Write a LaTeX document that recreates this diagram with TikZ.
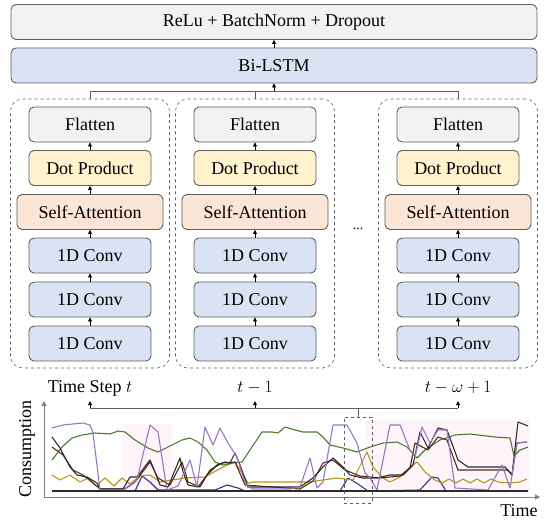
\documentclass[tikz,border=0pt]{standalone}
\usepackage{fontspec}
\setmainfont{Liberation Serif}
\usetikzlibrary{arrows.meta}

\definecolor{edgegray}{HTML}{5E5E5E}
\definecolor{boxgray}{HTML}{F2F2F2}
\definecolor{boxblue}{HTML}{DAE3F3}
\definecolor{boxyellow}{HTML}{FFF2CC}
\definecolor{boxpeach}{HTML}{FBE5D6}
\definecolor{cpurple}{HTML}{9677C0}
\definecolor{cgreen}{HTML}{4B7A2A}
\definecolor{cblack}{HTML}{2E2A2A}
\definecolor{cbrown}{HTML}{5A2818}
\definecolor{colive}{HTML}{B8950F}
\definecolor{cnavy}{HTML}{34348A}
\definecolor{cpink}{HTML}{FEF5FB}

\begin{document}
\begin{tikzpicture}[x=1pt,y=-1pt,
	blk/.style={draw=edgegray, line width=0.9pt, rounded corners=5pt, minimum height=35pt,
		inner sep=0pt, font=\fontsize{18}{21}\selectfont},
	frame/.style={draw=edgegray, dashed, line width=0.6pt, rounded corners=12pt,
		minimum width=159pt, minimum height=269pt},
	lbl/.style={font=\fontsize{18}{21}\selectfont, anchor=base, text depth=5pt, inner ysep=4pt},
	up/.style={-{Triangle[width=4pt,length=4pt]}, line width=0.7pt, draw=black},
	link/.style={line width=0.7pt, draw=edgegray},
	series/.style={line width=1.1pt, line join=round}]
	\useasboundingbox (0,0) rectangle (550,527);

	% head of the network
	\node[blk, fill=boxgray, minimum width=526pt] (relu) at (274,22) {ReLu + BatchNorm + Dropout};
	\node[blk, fill=boxblue, minimum width=526pt] (lstm) at (274,65.5) {Bi-LSTM};
	\draw[up] (lstm.north) -- (relu.south);

	% one column per time step
	\foreach \p/\cx in {a/90, b/255, c/458}{
		\node[blk, fill=boxgray, minimum width=122pt] (\p-flat) at (\cx,124.5) {Flatten};
		\node[blk, fill=boxyellow, minimum width=122pt] (\p-dot) at (\cx,168) {Dot Product};
		\node[blk, fill=boxpeach, minimum width=146pt] (\p-att) at (\cx,212) {Self-Attention};
		\node[blk, fill=boxblue, minimum width=122pt] (\p-cv1) at (\cx,255.5) {1D Conv};
		\node[blk, fill=boxblue, minimum width=122pt] (\p-cv2) at (\cx,299.5) {1D Conv};
		\node[blk, fill=boxblue, minimum width=122pt] (\p-cv3) at (\cx,343.5) {1D Conv};
		\node[frame] (\p-frame) at (\cx,233.5) {};
		\draw[up] (\p-cv3.north) -- (\p-cv2.south);
		\draw[up] (\p-cv2.north) -- (\p-cv1.south);
		\draw[up] (\p-cv1.north) -- (\p-att.south);
		\draw[up] (\p-att.north) -- (\p-dot.south);
		\draw[up] (\p-dot.north) -- (\p-flat.south);
	}
	\node[font=\fontsize{14}{16}\selectfont] (dots) at (358,229) {...};

	% columns into the Bi-LSTM
	\coordinate (bus) at (0,91);
	\draw[link] (a-frame.north) -- (a-frame.north |- bus) -- (c-frame.north |- bus) -- (c-frame.north);
	\draw[link] (b-frame.north) -- (b-frame.north |- bus);
	\draw[up] (lstm.south |- bus) -- (lstm.south);

	% time step labels
	\node[lbl] (ta) at (90,392) {Time Step $t$};
	\node[lbl] (tb) at (255,392) {$t-1$};
	\node[lbl] (tc) at (458,392) {$t-\omega+1$};

	% input series
	\fill[cpink] (122,424) rectangle (172,492);
	\fill[cpink] (365,420) rectangle (530,492);
	\draw[series, cnavy] plot coordinates {(52,491) (135,491) (142,476) (150,482) (158,490) (215,490)
		(227,485) (238,488) (245,491) (340,491) (348,478) (358,484) (368,491) (420,490) (432,477)
		(438,478) (446,491) (528,491)};
	\draw[series, colive] plot coordinates {(52,475) (60,480) (70,475) (80,482) (88,478) (96,486)
		(105,478) (114,486) (122,478) (130,484) (140,476) (150,475) (160,482) (185,478) (205,477)
		(223,467) (235,462) (242,473) (248,483) (253,482) (310,482) (323,480) (337,478) (353,480)
		(367,452) (373,467) (383,478) (390,482) (400,477) (410,467) (417,462) (425,472) (435,480)
		(442,483) (449,479) (456,483) (463,479) (470,483) (477,479) (484,483) (491,479) (498,482)
		(510,483) (520,482) (527,479)};
	\draw[series, cgreen] plot coordinates {(52,460) (62,447) (72,438) (82,435) (95,433) (110,434)
		(118,431) (125,432) (135,440) (148,448) (158,452) (170,446) (182,440) (190,438) (198,442)
		(207,450) (215,462) (223,465) (232,463) (242,462) (252,447) (262,432) (272,432) (278,433)
		(285,427) (295,430) (303,432) (317,432) (323,437) (330,445) (343,448) (357,452) (370,447)
		(383,443) (397,442) (407,447) (417,458) (425,450) (440,440) (455,435) (470,434) (495,437)
		(510,438) (514,456) (520,450) (528,447)};
	\draw[series, cbrown] plot coordinates {(52,447) (63,455) (73,470) (83,475) (93,483) (100,489)
		(125,489) (135,482) (150,462) (158,478) (170,485) (182,462) (188,482) (200,487) (210,470)
		(222,463) (235,462) (245,485) (300,489) (313,481) (323,463) (333,460) (345,470) (360,476)
		(380,478) (400,476) (410,468) (415,443) (428,450) (438,437) (447,440) (458,470) (508,470)
		(512,475) (517,443) (527,442)};
	\draw[series, cblack] plot coordinates {(52,437) (60,448) (70,467) (77,475) (87,477) (97,483)
		(100,489) (123,489) (130,477) (137,477) (150,460) (155,472) (160,485) (168,487) (180,458)
		(183,472) (188,485) (198,487) (207,475) (217,465) (225,462) (230,463) (235,453) (240,465)
		(248,487) (300,487) (313,478) (323,467) (333,458) (343,467) (350,475) (363,478) (377,478)
		(390,475) (403,475) (413,465) (420,432) (428,448) (438,428) (447,430) (458,460) (468,467)
		(505,467) (512,475) (518,422) (528,426)};
	\draw[series, cpurple] plot coordinates {(52,428) (63,425) (83,423) (90,425) (93,433) (100,490)
		(123,490) (137,480) (150,425) (158,432) (167,490) (178,486) (190,460) (197,487) (205,427)
		(213,445) (220,428) (228,443) (237,457) (245,483) (252,489) (290,489) (300,487) (310,458)
		(317,488) (323,482) (333,425) (347,425) (357,443) (365,473) (370,478) (377,490) (390,425)
		(400,425) (410,450) (415,457) (422,427) (430,443) (438,430) (447,430) (455,488) (488,490)
		(502,465) (510,488) (517,443) (527,442)};
	\draw[series, cblack, line width=1.3pt] plot coordinates {(52,491) (528,491)};

	% axes
	\coordinate (orig) at (44,497);
	\coordinate (ytop) at (44,401);
	\coordinate (xend) at (540,497);
	\draw[line width=1pt, draw=gray, -{Triangle[width=5pt,length=5pt]}] (orig) -- (ytop);
	\draw[line width=1pt, draw=gray, -{Triangle[width=5pt,length=5pt]}] (orig) -- (xend);
	\node[font=\fontsize{18}{21}\selectfont, rotate=90] (ylab) at (27,449) {Consumption};
	\node[font=\fontsize{18}{21}\selectfont] (xlab) at (519,511) {Time};

	% window that feeds the columns
	\node[draw=edgegray, dashed, line width=0.6pt, minimum width=28pt, minimum height=86pt,
		inner sep=0pt] (win) at (358,460) {};
	\coordinate (feed) at (0,408);
	\draw[link] (win.north) -- (win.north |- feed);
	\draw[link] (ta.south |- feed) -- (tc.south |- feed);
	\draw[up] (ta.south |- feed) -- (ta.south);
	\draw[up] (tb.south |- feed) -- (tb.south);
	\draw[up] (tc.south |- feed) -- (tc.south);
\end{tikzpicture}
\end{document}
